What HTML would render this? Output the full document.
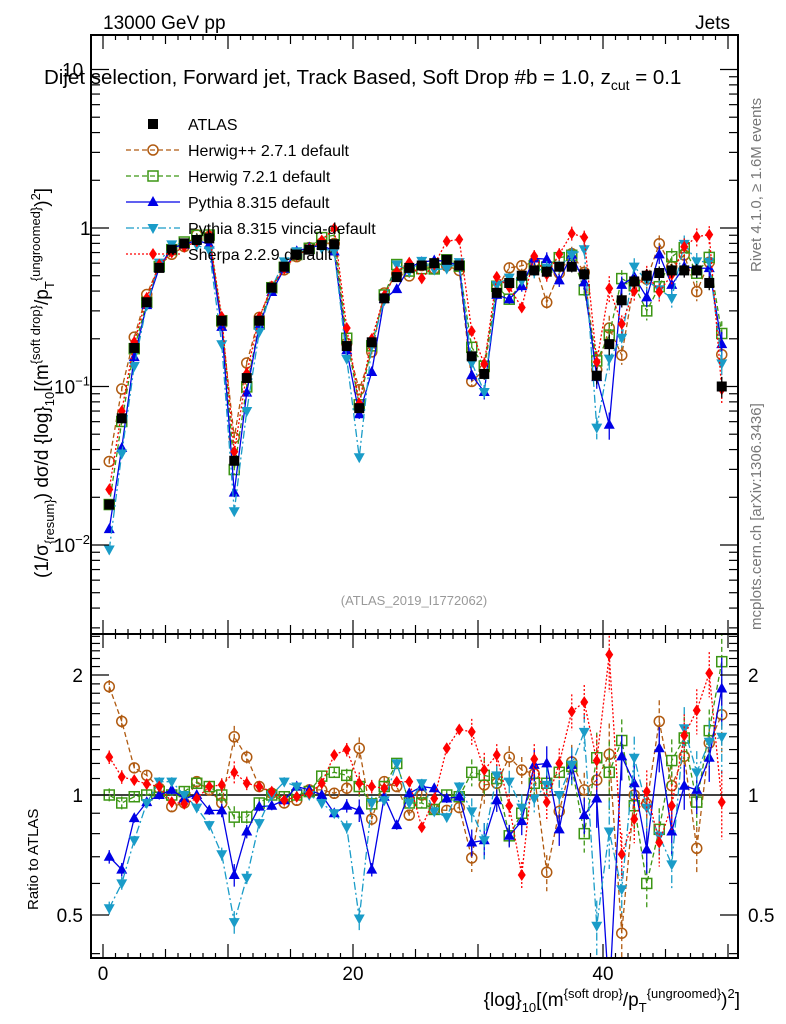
<!DOCTYPE html>
<html><head><meta charset="utf-8"><style>
body{margin:0;background:#fff}
svg{display:block;font-family:"Liberation Sans",sans-serif}
</style></head><body>
<svg id="c" width="786" height="1024" viewBox="0 0 786 1024" xmlns="http://www.w3.org/2000/svg">
<text x="103" y="29" font-size="19">13000 GeV pp</text>
<text x="730" y="29" font-size="19" text-anchor="end">Jets</text>
<text x="44" y="84" font-size="20.5">Dijet selection, Forward jet, Track Based, Soft Drop #b = 1.0, z<tspan font-size="14" dy="6">cut</tspan><tspan dy="-6"> = 0.1</tspan></text>
<text transform="translate(761,272) rotate(-90)" font-size="15" fill="#777">Rivet 4.1.0, ≥ 1.6M events</text>
<text transform="translate(761,630) rotate(-90)" font-size="15" fill="#777">mcplots.cern.ch [arXiv:1306.3436]</text>
<text x="414" y="605" font-size="13" fill="#999" text-anchor="middle">(ATLAS_2019_I1772062)</text>
<text transform="translate(48,578) rotate(-90)" font-size="19">(1/σ<tspan font-size="13" dy="6">{resum}</tspan><tspan dy="-6">) dσ/d {log}</tspan><tspan font-size="13" dy="6">10</tspan><tspan dy="-6">[(m</tspan><tspan font-size="13" dy="-8">{soft drop}</tspan><tspan dy="8">/p</tspan><tspan font-size="13" dy="6">T</tspan><tspan font-size="13" dy="-14">{ungroomed}</tspan><tspan dy="8">)</tspan><tspan font-size="13" dy="-8">2</tspan><tspan dy="8">]</tspan></text>
<text transform="translate(38,910) rotate(-90)" font-size="15">Ratio to ATLAS</text>
<text x="740" y="1006" font-size="19" text-anchor="end">{log}<tspan font-size="13" dy="6">10</tspan><tspan dy="-6">[(m</tspan><tspan font-size="13" dy="-8">{soft drop}</tspan><tspan dy="8">/p</tspan><tspan font-size="13" dy="6">T</tspan><tspan font-size="13" dy="-14">{ungroomed}</tspan><tspan dy="8">)</tspan><tspan font-size="13" dy="-8">2</tspan><tspan dy="8">]</tspan></text>
<g id="main"></g><g id="ratio"></g><g id="legend"></g>
</svg>
<script>
const atlas=[0.018,0.063,0.175,0.34,0.56,0.73,0.80,0.84,0.86,0.26,0.034,0.113,0.26,0.42,0.57,0.68,0.73,0.78,0.79,0.18,0.073,0.19,0.36,0.49,0.56,0.58,0.60,0.63,0.58,0.155,0.12,0.39,0.45,0.50,0.54,0.53,0.57,0.57,0.51,0.117,0.185,0.35,0.46,0.50,0.52,0.54,0.54,0.54,0.45,0.10];
const relErr=[0.03,0.03,0.02,0.02,0.02,0.02,0.02,0.02,0.02,0.03,0.05,0.03,0.02,0.02,0.02,0.02,0.02,0.02,0.02,0.03,0.05,0.03,0.02,0.02,0.02,0.02,0.02,0.02,0.02,0.06,0.08,0.05,0.05,0.06,0.07,0.08,0.07,0.08,0.08,0.12,0.15,0.1,0.1,0.1,0.1,0.1,0.1,0.1,0.1,0.15];
const rHerwigPP=[1.87,1.53,1.17,1.12,1.04,0.935,0.955,1.08,1.03,0.955,1.40,1.245,1.05,1.01,0.955,0.97,1.03,1.03,1.01,1.04,1.31,0.87,1.08,1.05,0.89,1.0,0.92,0.915,0.93,0.695,1.06,1.07,1.245,1.155,1.13,0.64,0.91,1.21,1.03,1.09,1.265,0.45,1.0,0.95,1.53,1.055,1.25,0.735,1.35,1.59];
const rHerwig7=[1.0,0.955,0.99,1.0,1.02,1.0,1.02,1.07,1.05,1.0,0.88,0.88,0.955,1.0,0.99,1.0,1.02,1.115,1.14,1.12,1.05,0.95,1.05,1.2,0.955,0.955,0.92,1.0,0.99,1.14,1.12,1.1,0.79,0.90,1.07,1.07,1.14,1.18,0.8,1.24,1.14,1.37,0.94,0.6,0.82,1.22,1.39,0.96,1.45,2.16];
const rPythia=[0.70,0.65,0.875,0.96,1.0,1.03,0.98,1.0,0.915,0.915,0.63,0.81,0.935,0.94,0.97,1.05,1.03,1.0,0.90,0.94,0.915,0.65,0.99,0.84,1.01,1.05,1.04,0.98,0.99,0.76,0.77,0.97,0.79,0.86,1.19,1.2,0.82,1.19,0.89,0.98,0.31,1.25,1.07,0.73,1.31,0.81,1.055,1.03,1.24,1.85];
const rVincia=[0.52,0.60,0.77,0.955,1.08,1.08,1.0,0.93,0.84,0.71,0.48,0.62,0.85,1.0,1.08,1.05,1.0,0.955,0.90,0.83,0.49,0.955,0.97,1.2,0.955,1.07,0.91,0.88,1.05,0.91,0.77,1.12,1.08,0.93,0.98,1.06,1.0,1.19,1.44,0.47,0.81,0.58,1.24,0.93,0.79,0.67,1.47,1.14,1.36,1.4];
const rSherpa=[1.245,1.11,1.09,1.065,1.05,0.96,0.95,0.98,1.05,1.06,1.14,1.07,1.05,1.02,0.97,0.99,1.01,1.07,1.26,1.30,1.07,1.05,1.04,1.08,1.08,0.83,0.98,1.31,1.46,1.44,1.155,1.26,0.94,0.63,1.23,0.96,1.2,1.62,1.71,1.22,2.25,0.71,0.87,1.02,0.76,0.94,1.41,1.63,2.02,0.96];
const mcNames=["Herwig++ 2.7.1 default","Herwig 7.2.1 default","Pythia 8.315 default","Pythia 8.315 vincia-default","Sherpa 2.2.9 default"];
const xTicks=[0,20,40];

const NS="http://www.w3.org/2000/svg";
const L=91,R=738,T=35,MB=634,B=958;
const xs=v=>103+12.5*v;
const ym=v=>228-158.5*Math.log10(v);
const yr=v=>795-120*Math.log2(v);
function mk(t,a,p){const e=document.createElementNS(NS,t);for(const k in a)e.setAttribute(k,a[k]);(p||document.getElementById('c')).appendChild(e);return e;}
const series=[
 {r:rHerwigPP,col:"#b05a10",dash:"5,3",m:"circle",key:"herwigpp"},
 {r:rHerwig7,col:"#3c9614",dash:"5,3",m:"square",key:"herwig7"},
 {r:rPythia,col:"#0000e6",dash:"",m:"tri",key:"pythia"},
 {r:rVincia,col:"#1a9cc8",dash:"8,3,2,3",m:"itri",key:"vincia"},
 {r:rSherpa,col:"#ff0000",dash:"2,2",m:"diamond",key:"sherpa"}];
function marker(g,m,x,y,col){
 let e;
 if(m==="circle")e=mk('circle',{cx:x,cy:y,r:5,fill:"none",stroke:col,"stroke-width":1.5},g);
 else if(m==="square")e=mk('rect',{x:x-5,y:y-5,width:10,height:10,fill:"none",stroke:col,"stroke-width":1.5},g);
 else if(m==="tri")e=mk('polygon',{points:`${x},${y-6} ${x-5.5},${y+4} ${x+5.5},${y+4}`,fill:col},g);
 else if(m==="itri")e=mk('polygon',{points:`${x},${y+6} ${x-5.5},${y-4} ${x+5.5},${y-4}`,fill:col},g);
 else if(m==="diamond")e=mk('polygon',{points:`${x},${y-6} ${x-4},${y} ${x},${y+6} ${x+4},${y}`,fill:col},g);
 else e=mk('rect',{x:x-5,y:y-5,width:10,height:10,fill:"#000"},g);
 return e;
}
function panel(gid,top,bot,yf,getv,isMain){
 const g=document.getElementById(gid);
 const clipId=gid+"clip";
 const cp=mk('clipPath',{id:clipId},g);mk('rect',{x:L,y:top,width:R-L,height:bot-top},cp);
 const pg=mk('g',{"clip-path":`url(#${clipId})`},g);
 if(!isMain){const l=mk('line',{x1:L,x2:R,y1:yf(1),y2:yf(1),stroke:"#000","stroke-width":1.5},pg);
  }
 series.forEach((s,si)=>{
  const sg=mk('g',{},pg);
  
  
  const vals=s.r.map((r,i)=>getv(r,i));
  const pts=vals.map((v,i)=>`${xs(i+0.5)},${yf(v)}`).join(' ');
  mk('polyline',{points:pts,fill:"none",stroke:s.col,"stroke-width":1.3,"stroke-dasharray":s.dash},sg);
  vals.forEach((v,i)=>{
   const x=xs(i+0.5),e=relErr[i]*1.3*v;
   mk('line',{x1:x,x2:x,y1:yf(v+e),y2:yf(Math.max(v-e,1e-4)),stroke:s.col,"stroke-width":1.3,"stroke-dasharray":s.dash},sg);
   const m=marker(sg,s.m,x,yf(v),s.col);
   
   
  });
 });
 if(isMain){
  const ag=mk('g',{},pg);
  
  
  atlas.forEach((v,i)=>{const x=xs(i+0.5);
   mk('line',{x1:x,x2:x,y1:ym(v*(1+relErr[i])),y2:ym(v*(1-relErr[i])),stroke:"#000","stroke-width":1.3},ag);
   const m=marker(ag,"sq",x,ym(v),"#000");
   
   });
 }
 const fr=mk('rect',{x:L,y:top,width:R-L,height:bot-top,fill:"none",stroke:"#000","stroke-width":2},g);
 
 
 for(let v=0;v<=50;v++){const x=xs(v);if(x>R)break;const len=v%5===0?(v%10===0?14:9):5;
  mk('line',{x1:x,x2:x,y1:top,y2:top+len,stroke:"#000","stroke-width":1.2},g);
  mk('line',{x1:x,x2:x,y1:bot,y2:bot-len,stroke:"#000","stroke-width":1.2},g);}
}
panel('main',T,MB,ym,(r,i)=>r*atlas[i],true);
panel('ratio',MB,B,yr,(r)=>r,false);
const mg=document.getElementById('main');
for(let d=-3;d<=1;d++)for(let k=1;k<10;k++){const v=k*Math.pow(10,d);const y=ym(v);if(y<T||y>MB)continue;
 const len=k===1?18:9;mk('line',{x1:L,x2:L+len,y1:y,y2:y,stroke:"#000","stroke-width":1.2},mg);mk('line',{x1:R,x2:R-len,y1:y,y2:y,stroke:"#000","stroke-width":1.2},mg);}
const yl=[[1,"1"],[0.1,"10<tspan font-size='13' dy='-8'>−1</tspan>"],[0.01,"10<tspan font-size='13' dy='-8'>−2</tspan>"],[10,"10"]];
yl.forEach(([v,t])=>{const e=mk('text',{x:v===1?80:(v===10?62:54),y:ym(v)+7,"font-size":19},mg);e.innerHTML=t;
 });
const rg=document.getElementById('ratio');
[0.4,0.5,0.6,0.7,0.8,0.9,1,1.1,1.2,1.3,1.4,1.5,1.6,1.7,1.8,1.9,2,2.1,2.2,2.3,2.4,2.5].forEach(v=>{const y=yr(v);if(y<MB||y>B)return;
 const len=(v===0.5||v===1||v===2)?18:9;mk('line',{x1:L,x2:L+len,y1:y,y2:y,stroke:"#000","stroke-width":1.2},rg);mk('line',{x1:R,x2:R-len,y1:y,y2:y,stroke:"#000","stroke-width":1.2},rg);});
[[2,"2"],[1,"1"],[0.5,"0.5"]].forEach(([v,t])=>{
 const a=mk('text',{x:83,y:yr(v)+7,"font-size":19,"text-anchor":"end"},rg);a.textContent=t;
 
 const b=mk('text',{x:748,y:yr(v)+7,"font-size":19},rg);b.textContent=t;
 });
xTicks.forEach(v=>{const e=mk('text',{x:xs(v),y:980,"font-size":19,"text-anchor":"middle"},rg);e.textContent=v;
 });
const lg=document.getElementById('legend');
const le=mk('g',{},lg);
marker(le,"sq",153,124,"#000");const t0=mk('text',{x:188,y:130,"font-size":16},le);t0.textContent="ATLAS";
series.forEach((s,i)=>{const y=150+i*26;
 const g=mk('g',{},lg);
 mk('line',{x1:126,x2:180,y1:y,y2:y,stroke:s.col,"stroke-width":1.3,"stroke-dasharray":s.dash},g);
 marker(g,s.m,153,y,s.col);
 const t=mk('text',{x:188,y:y+6,"font-size":16},g);t.textContent=mcNames[i];});
</script>
</body></html>
